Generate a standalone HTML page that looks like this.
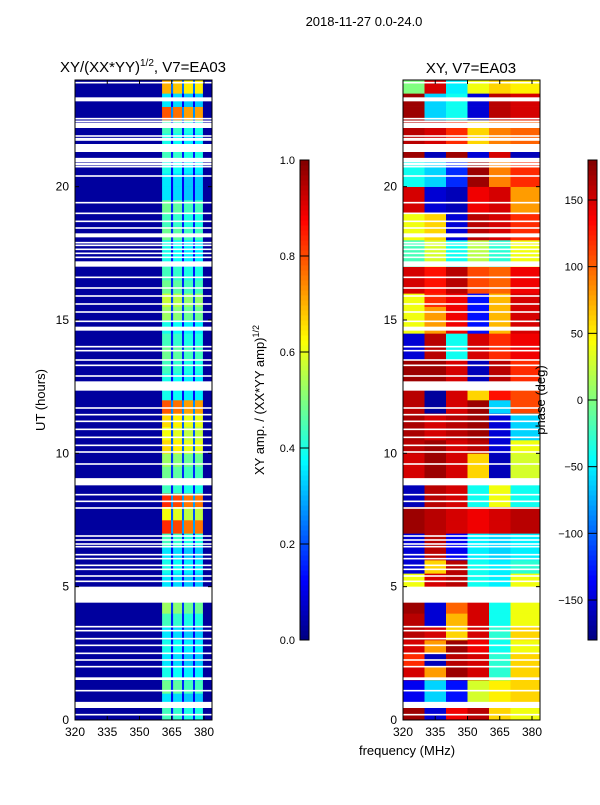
<!DOCTYPE html>
<html><head><meta charset="utf-8">
<style>
body{margin:0;background:#fff;width:600px;height:800px;overflow:hidden;font-family:"Liberation Sans",sans-serif}
svg text{font-family:"Liberation Sans","DejaVu Sans",sans-serif;fill:#000}
</style></head><body>
<svg id="c" width="600" height="800" xmlns="http://www.w3.org/2000/svg"></svg>
<script>
// ---- data ----
const hourBins = 48; // 0.5 h bins
const ampBands = [[360.5,364.7],[365.6,369.8],[370.7,374.9],[375.8,379.5]];
const ampBandScale = [0.88,0.85,0.8,0.8];
const ampBackground = 0.03;
const ampRows = [0.5,0.4,0.55,0.45,0.4,0.45,0.4,0.5,0.6,0.5,0.4,0.45,0.4,0.5,0.95,0.7,0.95,0.5,0.55,0.6,0.75,0.7,0.75,0.9,0.45,0.45,0.5,0.55,0.5,0.45,0.6,0.65,0.55,0.5,0.45,0.45,0.55,0.5,0.55,0.4,0.4,0.45,0.5,0.45,0.5,0.9,0.4,0.8];
const phaseCols = [[320,330],[330,340],[340,350],[350,360],[360,370],[370,384]];
const phaseRows = [
[170,-150,140,160,60,40],[-140,-60,-130,30,50,60],[-140,-60,-130,30,50,60],[150,80,170,150,-30,60],
[120,-160,160,150,-30,60],[150,80,170,140,-40,40],[160,150,60,150,-30,60],[160,-150,70,150,-40,40],
[170,-150,100,150,-40,40],[40,150,160,-40,-50,40],[40,150,160,-40,-50,40],[-150,60,160,-40,-50,-30],
[-150,160,-140,-50,-60,-50],[-150,160,-140,-50,-60,-50],[170,160,150,140,150,160],[170,160,150,140,150,160],
[-160,160,150,-40,40,-40],[-160,160,150,-40,40,-40],[150,170,150,60,-160,30],[150,170,150,60,-160,30],
[160,170,150,160,-150,40],[165,150,160,170,-150,-60],[165,150,160,170,-150,-60],[160,-170,150,170,-60,110],
[160,-170,150,60,130,110],[170,170,150,-160,160,120],[170,170,150,-160,160,120],[-150,160,-40,150,120,140],
[-150,160,-40,150,120,140],[40,80,140,-130,70,150],[40,80,140,-130,70,150],[40,120,140,-130,70,150],
[150,130,160,110,100,140],[150,130,160,110,100,140],[-20,30,-40,20,-30,40],[-20,30,-40,20,-30,40],
[40,60,-150,160,150,120],[40,60,-150,160,150,120],[150,-150,-160,140,150,80],[150,-150,-160,140,150,80],
[-40,-60,-120,170,90,120],[-40,-60,-120,170,90,120],[170,-160,170,-150,150,-160],[160,150,120,60,90,100],
[160,150,120,60,90,100],[170,-60,-40,-150,160,150],[170,-60,-40,-150,160,150],[0,150,-50,40,60,50]];
const gapBands = [[23.2,23.35],[22.2,22.4],[21.3,21.6],[20.8,20.9],[18.1,18.25],[17.0,17.2],[14.6,14.75],[12.35,12.7],[8.8,9.07],[4.4,5.0],[1.5,1.6],[0.45,0.68]];
const gapLines = [23.9,22.55,22.45,21.9,21.8,21.75,21.05,21.0,20.95,20.75,20.4,19.4,19.0,18.7,18.45,17.9,17.8,17.65,17.5,17.35,16.6,16.2,15.9,15.6,15.3,14.95,14.0,13.85,13.5,13.3,12.9,11.7,11.45,11.2,10.9,10.6,10.3,10.05,9.6,8.45,8.2,7.95,6.9,6.75,6.6,6.5,6.2,6.05,5.8,5.65,5.4,5.2,3.5,3.35,3.05,2.8,2.5,2.25,2.0,1.1,0.2];
const yTicks = [0,5,10,15,20];
const xTicks = [320,335,350,365,380];
const ampTicks = [0.0,0.2,0.4,0.6,0.8,1.0];
const phaseTicks = [-150,-100,-50,0,50,100,150];

// ---- helpers ----
const svg = document.getElementById('c');
const NS = 'http://www.w3.org/2000/svg';
function mk(tag, attrs, parent){const e=document.createElementNS(NS,tag);for(const k in attrs)e.setAttribute(k,attrs[k]);(parent||svg).appendChild(e);return e;}
function jet(v){v=Math.max(0,Math.min(1,v));
 const r=Math.max(0,Math.min(1,1.5-Math.abs(4*v-3))),g=Math.max(0,Math.min(1,1.5-Math.abs(4*v-2))),b=Math.max(0,Math.min(1,1.5-Math.abs(4*v-1)));
 return `rgb(${Math.round(r*255)},${Math.round(g*255)},${Math.round(b*255)})`;}
const Y0=720,Y1=80;
function yScale(h){return Y0-(Y0-Y1)*h/24;}
const panels=[{x0:75,name:'amp'},{x0:403,name:'phase'}];
function xScale(p,f){return p.x0+(f-320)*129/60;}
const XEND=137;

// ---- left panel ----
(function(){
 const p=panels[0];const g=mk('g',{});
 
 
 mk('rect',{x:p.x0,y:Y1,width:XEND,height:Y0-Y1,fill:jet(ampBackground)},g);
 ampRows.forEach((v,i)=>{
  ampBands.forEach((b,j)=>{
   const c=mk('rect',{x:xScale(p,b[0]),y:yScale((i+1)/2),width:xScale(p,b[1])-xScale(p,b[0]),height:yScale(i/2)-yScale((i+1)/2)+0.3,fill:jet(v*ampBandScale[j])},g);
   
   
  });
  for(let j=0;j<ampBands.length-1;j++){
   mk('rect',{x:xScale(p,ampBands[j][1]),y:yScale((i+1)/2),width:xScale(p,ampBands[j+1][0])-xScale(p,ampBands[j][1]),height:yScale(i/2)-yScale((i+1)/2)+0.3,fill:jet(v*0.3)},g);
  }
 });
})();
// ---- right panel ----
(function(){
 const p=panels[1];const g=mk('g',{});
 
 
 phaseRows.forEach((row,i)=>{
  row.forEach((v,j)=>{
   const x0=xScale(p,phaseCols[j][0]);const x1=Math.min(xScale(p,phaseCols[j][1]),p.x0+XEND);
   const c=mk('rect',{x:x0,y:yScale((i+1)/2),width:x1-x0+0.3,height:yScale(i/2)-yScale((i+1)/2)+0.3,fill:jet((v+180)/360)},g);
   
   
  });
 });
})();
// ---- gaps, frames, axes ----
panels.forEach(p=>{
 gapBands.forEach(b=>mk('rect',{x:p.x0,y:yScale(b[1]),width:XEND,height:yScale(b[0])-yScale(b[1]),fill:'#fff'}));
 gapLines.forEach(h=>mk('rect',{x:p.x0,y:yScale(h)-0.8,width:XEND,height:1.6,fill:'#fff'}));
 const fr=mk('rect',{x:p.x0,y:Y1,width:XEND,height:Y0-Y1,fill:'none',stroke:'#000','stroke-width':1});
 
 
 yTicks.forEach(t=>{
  const y=yScale(t);
  mk('line',{x1:p.x0,x2:p.x0+4,y1:y,y2:y,stroke:'#000'});
  mk('line',{x1:p.x0+XEND,x2:p.x0+XEND-4,y1:y,y2:y,stroke:'#000'});
  const l=mk('text',{x:p.x0-6,y:y+4,'text-anchor':'end','font-size':12});l.textContent=t;
  
  
 });
 xTicks.forEach(t=>{
  const x=xScale(p,t);
  mk('line',{x1:x,x2:x,y1:Y0,y2:Y0-4,stroke:'#000'});
  mk('line',{x1:x,x2:x,y1:Y1,y2:Y1+4,stroke:'#000'});
  const l=mk('text',{x:x,y:736,'text-anchor':'middle','font-size':12});l.textContent=t;
  
  
 });
});
// ---- colorbars ----
function colorbar(x,vals,lo,hi,name,fmt){
 const g=mk('g',{});
 
 
 const N=96;
 for(let i=0;i<N;i++){mk('rect',{x:x,y:160+480*(N-1-i)/N,width:9,height:480/N+0.5,fill:jet((i+0.5)/N)},g);}
 mk('rect',{x:x,y:160,width:9,height:480,fill:'none',stroke:'#000'},g);
 vals.forEach(v=>{const y=640-480*(v-lo)/(hi-lo);
  mk('line',{x1:x,x2:x+9,y1:y,y2:y,stroke:'#000'},g);
  const t=mk('text',{x:x-5,y:y+4,'text-anchor':'end','font-size':11},g);t.textContent=fmt(v);
  
  
 });
}
colorbar(300,ampTicks,0,1,'amplitude-colorbar',v=>v.toFixed(1));
colorbar(588,phaseTicks,-180,180,'phase-colorbar',v=>v<0?'\u2212'+(-v):''+v);
</script>
<svg width="600" height="800" style="position:absolute;left:0;top:0" xmlns="http://www.w3.org/2000/svg">
<text x="364" y="26" text-anchor="middle" font-size="13">2018-11-27 0.0-24.0</text>
<text x="143" y="72" text-anchor="middle" font-size="15">XY/(XX*YY)<tspan font-size="10" dy="-6">1/2</tspan><tspan dy="6">, V7=EA03</tspan></text>
<text x="471" y="73" text-anchor="middle" font-size="15">XY, V7=EA03</text>
<text transform="translate(45,400) rotate(-90)" text-anchor="middle" font-size="13">UT (hours)</text>
<text x="407" y="755" text-anchor="middle" font-size="13">frequency (MHz)</text>
<text transform="translate(264,400) rotate(-90)" text-anchor="middle" font-size="13">XY amp. / (XX*YY amp)<tspan font-size="9" dy="-5">1/2</tspan></text>
<text transform="translate(545,400) rotate(-90)" text-anchor="middle" font-size="13">phase (deg)</text>
</svg>
</body></html>
